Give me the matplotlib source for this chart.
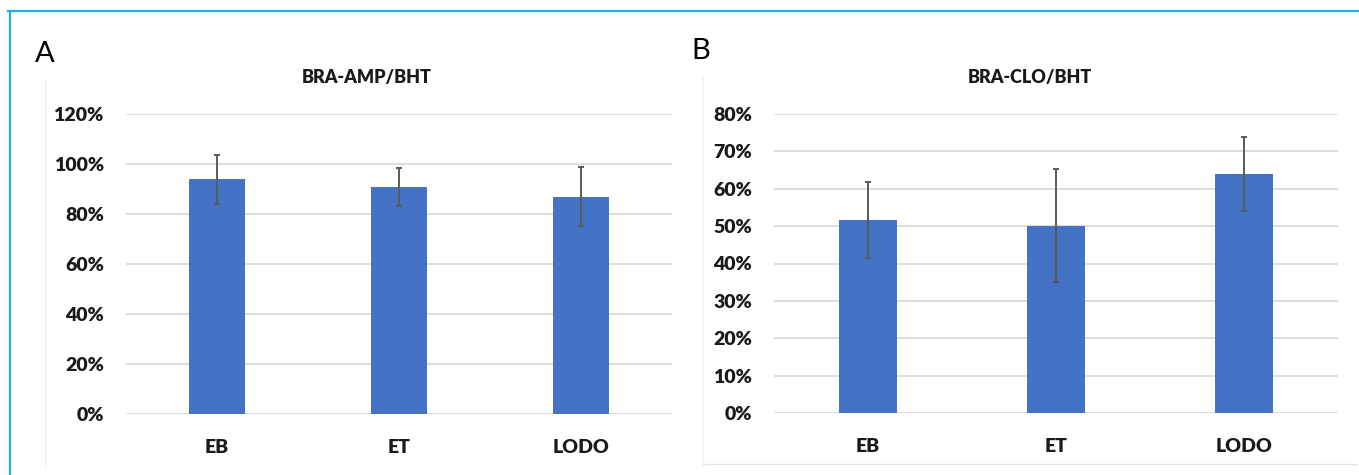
import matplotlib.pyplot as plt
from matplotlib.lines import Line2D
from matplotlib.ticker import FuncFormatter

plt.rcParams['font.family'] = ['Lato', 'DejaVu Sans']

groups = ["EB", "ET", "LODO"]

# panel A: BRA-AMP/BHT
amp_vals = [93.9, 90.8, 86.9]
amp_err = [9.8, 7.5, 11.8]

# panel B: BRA-CLO/BHT
clo_vals = [51.6, 50.1, 64.0]
clo_err = [10.2, 15.1, 9.9]

bar_color = "#4472C4"
W, H = 1359, 475

fig = plt.figure(figsize=(W / 100, H / 100), dpi=100)

def draw(ax, vals, errs, ymax, step):
    x = range(len(groups))
    ax.bar(x, vals, width=0.31, color=bar_color, zorder=2)
    ax.errorbar(x, vals, yerr=errs, fmt='none', ecolor="#5a5a5a",
                elinewidth=1.4, capsize=2.5, capthick=1.4, zorder=3)
    ax.set_xlim(-0.5, 2.5)
    ax.set_ylim(0, ymax)
    ax.set_yticks(range(0, ymax + 1, step))
    ax.yaxis.set_major_formatter(FuncFormatter(lambda v, p: f"{int(v)}%"))
    ax.set_xticks(list(x))
    ax.set_xticklabels(groups)
    ax.grid(axis='y', color="#d9d9d9", linewidth=1.3, zorder=0)
    ax.set_axisbelow(True)
    for s in ax.spines.values():
        s.set_visible(False)
    ax.tick_params(length=0, labelsize=14, labelcolor="#1a1a1a")
    ax.tick_params(axis='y', pad=16)
    ax.tick_params(axis='x', pad=18)
    for lab in ax.get_xticklabels() + ax.get_yticklabels():
        lab.set_fontweight('heavy')

axA = fig.add_axes([126 / W, 61 / H, (672 - 126) / W, 300 / H])
draw(axA, amp_vals, amp_err, 120, 20)
axB = fig.add_axes([774 / W, 62 / H, (1338 - 774) / W, 299 / H])
draw(axB, clo_vals, clo_err, 80, 10)

# titles centred on the chart areas
fig.text(367 / W, 1 - 77 / H, "BRA-AMP/BHT", ha='center', va='center',
         fontsize=13, fontweight='heavy', color="#1a1a1a")
fig.text(1030 / W, 1 - 77 / H, "BRA-CLO/BHT", ha='center', va='center',
         fontsize=13, fontweight='heavy', color="#1a1a1a")

# panel letters
fig.text(35 / W, 1 - 54 / H, "A", ha='left', va='center', fontsize=21,
         fontweight='normal', color="black")
fig.text(691 / W, 1 - 51 / H, "B", ha='left', va='center', fontsize=21,
         fontweight='normal', color="black")

# faint chart-area borders
faint = "#f0f0f0"
fig.add_artist(Line2D([45 / W, 45 / W], [1 - 80 / H, 1 - 466 / H], color=faint, lw=1))
fig.add_artist(Line2D([703 / W, 703 / W], [1 - 77 / H, 1 - 464 / H], color=faint, lw=1))
fig.add_artist(Line2D([703 / W, 1356 / W], [1 - 464 / H, 1 - 464 / H], color="#e2e2e2", lw=1))

# cyan frame (top and left)
cyan = "#1fb1e6"
fig.add_artist(Line2D([8 / W, 1], [1 - 10.5 / H, 1 - 10.5 / H], color=cyan, lw=1.6))
fig.add_artist(Line2D([9.5 / W, 9.5 / W], [1 - 10.5 / H, 0], color=cyan, lw=1.6))

fig.savefig("out.png", dpi=100)
